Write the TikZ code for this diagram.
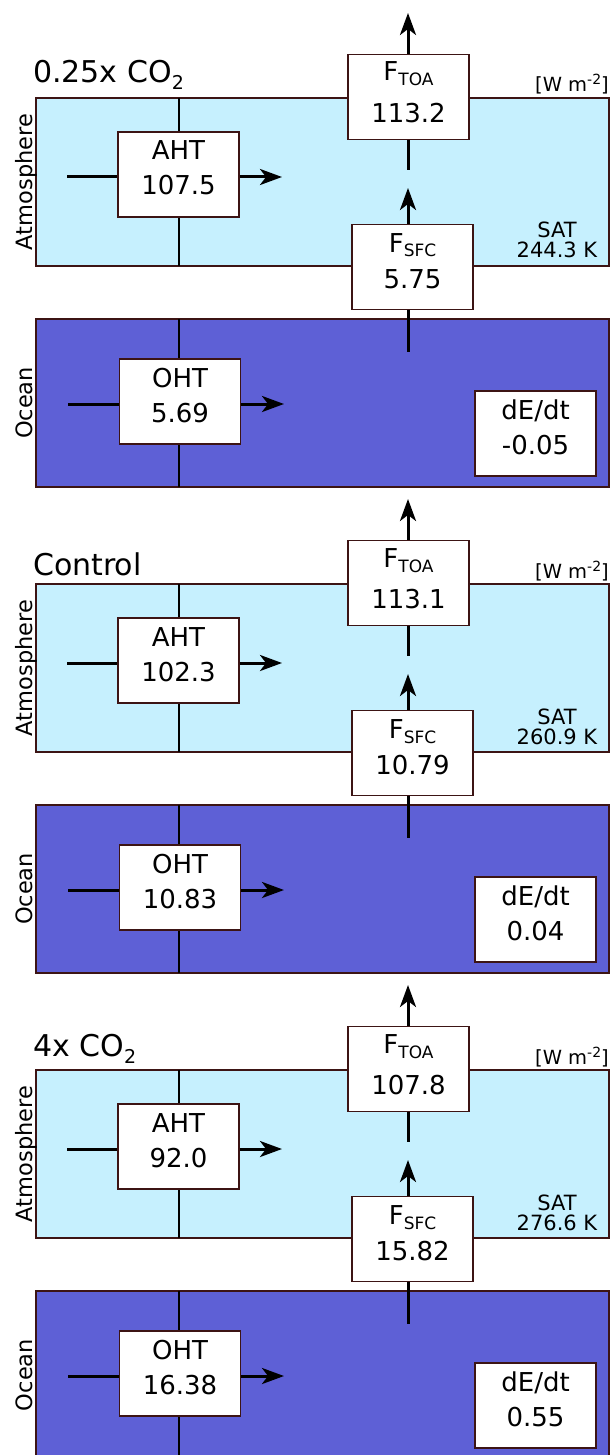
\documentclass[tikz,border=0pt]{standalone}
\usepackage{fontspec}
\setmainfont{DejaVu Sans}
\usetikzlibrary{arrows.meta}
\definecolor{atmcol}{RGB}{198,240,254}
\definecolor{ocncol}{RGB}{94,96,214}
\definecolor{edgecol}{RGB}{60,20,20}
\newcommand{\cotwo}{CO\raisebox{-7pt}{\fontsize{19}{19}\selectfont 2}}
\newcommand{\fsub}[1]{\raisebox{-5pt}{\fontsize{17}{17}\selectfont #1}}
\tikzset{
  layer/.style={draw=edgecol, line width=1.5pt},
  divider/.style={line width=1.2pt},
  valbox/.style={draw=edgecol, fill=white, line width=1.2pt, minimum width=121pt, minimum height=85pt, inner sep=0pt},
  lbl/.style={font=\fontsize{26}{26}\selectfont, inner sep=0pt, anchor=base},
  small/.style={font=\fontsize{21}{21}\selectfont, inner sep=0pt, anchor=base},
  side/.style={font=\fontsize{22.5}{22.5}\selectfont, inner sep=0pt, anchor=base, rotate=90},
  flow/.style={line width=3pt, -{Stealth[length=22pt,width=16pt,inset=6pt]}},
  plain/.style={line width=3pt},
}
\begin{document}
\begin{tikzpicture}[x=1pt,y=-1pt]
\clip (0,0) rectangle (612,1455);
\foreach \k/\ttl/\tb/\aht/\toa/\sfc/\oht/\dedt/\sat in {
    0/{0.25x \cotwo}/83/107.5/113.2/5.75/5.69/-0.05/244.3,
    1/Control/89/102.3/113.1/10.79/10.83/0.04/260.9,
    2/{4x \cotwo}/84/92.0/107.8/15.82/16.38/0.55/276.6} {
  \pgfmathsetmacro{\dy}{486*\k}
  \begin{scope}[shift={(0,\dy)}]
    % atmosphere and ocean layers
    \draw[layer, fill=atmcol] (36,98) rectangle (609,266);
    \draw[divider] (179,98) -- (179,266);
    \draw[layer, fill=ocncol] (36,319) rectangle (609,487);
    \draw[divider] (179,319) -- (179,487);
    % labels
    \node[font=\fontsize{30}{30}\selectfont, inner sep=0pt, anchor=base west] (title\k) at (33,\tb) {\ttl};
    \node[font=\fontsize{19.5}{19.5}\selectfont, inner sep=0pt, anchor=base east] (unit\k) at (609,92) {[W m\raisebox{7pt}{\fontsize{14}{14}\selectfont -2}]};
    \node[side] (atmlab\k) at (32,182) {Atmosphere};
    \node[side] (ocnlab\k) at (32,403) {Ocean};
    \node[small] (satname\k) at (557,238) {SAT};
    \node[small] (satval\k) at (557,258) {\sat\ K};
    % boxes
    \node[valbox] (aht\k) at (178.5,174.5) {};
    \node[lbl] (ahtname\k) at (178.5,160) {AHT};
    \node[lbl] (ahtval\k) at (178.5,195) {\aht};
    \node[valbox] (toa\k) at (408.5,97) {};
    \node[lbl] (toaname\k) at (408.5,81) {F\fsub{TOA}};
    \node[lbl] (toaval\k) at (408.5,122.5) {\toa};
    \node[valbox] (sfc\k) at (412.5,267) {};
    \node[lbl] (sfcname\k) at (412.5,252) {F\fsub{SFC}};
    \node[lbl] (sfcval\k) at (412.5,288) {\sfc};
    \node[valbox] (oht\k) at (180,401.5) {};
    \node[lbl] (ohtname\k) at (180,387) {OHT};
    \node[lbl] (ohtval\k) at (180,422) {\oht};
    \node[valbox] (dedt\k) at (535.5,433.5) {};
    \node[lbl] (dedtname\k) at (535.5,419) {dE/dt};
    \node[lbl] (dedtval\k) at (535.5,454) {\dedt};
    % arrow ends
    \coordinate (ahtin\k) at (67,177);
    \coordinate (ahtout\k) at (282,177);
    \coordinate (ohtin\k) at (68,404);
    \coordinate (ohtout\k) at (284,404);
    \coordinate (toatip\k) at (408,13);
    \coordinate (toagap\k) at (408,170);
    \coordinate (sfctip\k) at (408,188);
    \coordinate (sfcend\k) at (408,352);
    % fluxes
    \draw[plain] (ahtin\k) -- (aht\k.west |- ahtin\k);
    \draw[flow] (aht\k.east |- ahtout\k) -- (ahtout\k);
    \draw[plain] (ohtin\k) -- (oht\k.west |- ohtin\k);
    \draw[flow] (oht\k.east |- ohtout\k) -- (ohtout\k);
    \draw[flow] (toa\k.north -| toatip\k) -- (toatip\k);
    \draw[plain] (toa\k.south -| toatip\k) -- (toagap\k);
    \draw[flow] (sfc\k.north -| toatip\k) -- (sfctip\k);
    \draw[plain] (sfc\k.south -| toatip\k) -- (sfcend\k);
  \end{scope}}
\end{tikzpicture}
\end{document}
